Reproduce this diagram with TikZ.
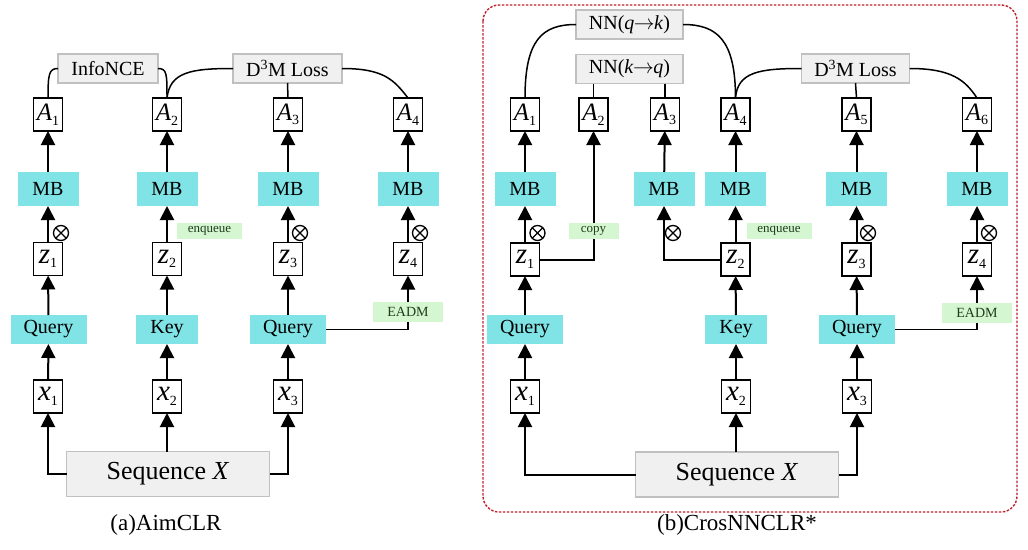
\documentclass[tikz,border=0pt]{standalone}
\usepackage{fontspec}
\setmainfont{Liberation Serif}
\usetikzlibrary{arrows.meta}
\definecolor{mbcyan}{RGB}{128,228,230}
\definecolor{gfill}{RGB}{240,240,240}
\definecolor{gdraw}{RGB}{192,192,192}
\definecolor{lgreen}{RGB}{212,246,208}
\definecolor{dred}{RGB}{190,34,46}
\definecolor{tagtext}{RGB}{30,60,30}
\newcommand\lsub[1]{\raisebox{-4.5pt}{\fontsize{14}{14}\selectfont #1}}
\newcommand\rarr{\kern-0.5pt$\rightarrow$\kern-0.5pt}
\begin{document}
\begin{tikzpicture}[x=1pt,y=-1pt,
  every node/.style={inner sep=0pt,outer sep=0pt},
  varbox/.style={draw=black,line width=1.3pt,fill=white,minimum width=29pt,minimum height=33pt},
  Abox/.style={varbox,font=\fontsize{25}{25}\selectfont},
  zbox/.style={varbox,font=\fontsize{29}{29}\selectfont},
  mbbox/.style={fill=mbcyan,minimum width=61pt,minimum height=34pt,font=\fontsize{20}{20}\selectfont},
  qbox/.style={fill=mbcyan,minimum width=76pt,minimum height=29pt,font=\fontsize{20}{20}\selectfont},
  kbox/.style={qbox,minimum width=62pt},
  lossbox/.style={draw=gdraw,fill=gfill,line width=1.2pt,minimum height=29pt,font=\fontsize{20}{20}\selectfont},
  seqbox/.style={draw=gdraw,fill=gfill,line width=1.2pt,minimum width=203pt,minimum height=45pt,font=\fontsize{26}{26}\selectfont},
  tag/.style={fill=lgreen,text=tagtext,minimum height=16pt,font=\fontsize{13}{13}\selectfont},
  eadm/.style={tag,minimum width=70pt,minimum height=20pt,font=\fontsize{14}{14}\selectfont},
  otimes/.style={circle,draw,line width=1.3pt,minimum size=15pt,
    path picture={\draw[line width=1.3pt] (path picture bounding box.north west) -- (path picture bounding box.south east)
      (path picture bounding box.north east) -- (path picture bounding box.south west);}},
  arr/.style={line width=2pt,-{Triangle[length=14pt,width=14pt]}},
  link/.style={line width=1.5pt},
  caption/.style={font=\fontsize{23}{23}\selectfont}
]
\useasboundingbox (0,0) rectangle (1028,549);

% ================= (a) AimCLR =================
\node[lossbox,minimum width=100pt] (info) at (108,68.5) {InfoNCE};
\node[lossbox,minimum width=109pt] (ld3m) at (287.5,68.5) {D\textsuperscript{3}M Loss};

\node[Abox] (la1) at (48,114.5) {\textit{A}\lsub{1}};
\node[Abox] (la2) at (167,114.5) {\textit{A}\lsub{2}};
\node[Abox] (la3) at (288,114.5) {\textit{A}\lsub{3}};
\node[Abox] (la4) at (408,114.5) {\textit{A}\lsub{4}};

\node[mbbox] (lmb1) at (48,189) {MB};
\node[mbbox] (lmb2) at (167,189) {MB};
\node[mbbox] (lmb3) at (288,189) {MB};
\node[mbbox] (lmb4) at (408,189) {MB};

\node[zbox] (lz1) at (48,259) {\textit{z}\lsub{1}};
\node[zbox] (lz2) at (167,259) {\textit{z}\lsub{2}};
\node[zbox] (lz3) at (288,259) {\textit{z}\lsub{3}};
\node[zbox] (lz4) at (408,259) {\textit{z}\lsub{4}};

\node[otimes] (lo1) at (61,233) {};
\node[otimes] (lo3) at (300,233) {};
\node[otimes] (lo4) at (420,233) {};

\node[qbox] (lq1) at (48.5,329.5) {Query};
\node[kbox] (lk) at (167,329.5) {Key};
\node[qbox] (lq3) at (288,329.5) {Query};

\node[zbox] (lx1) at (48,396.5) {\textit{x}\lsub{1}};
\node[zbox] (lx2) at (167,396.5) {\textit{x}\lsub{2}};
\node[zbox] (lx3) at (288,396.5) {\textit{x}\lsub{3}};

\node[seqbox] (lseq) at (168,474) {Sequence \textit{X}};
\node[caption] (lcap) at (166,525) {(a)AimCLR};

\draw[arr] (lseq.west) -| (lx1.south);
\draw[arr] (lseq.north -| lx2) -- (lx2.south);
\draw[arr] (lseq.east) -| (lx3.south);
\draw[arr] (lx1) -- (lq1);
\draw[arr] (lx2) -- (lk);
\draw[arr] (lx3) -- (lq3);
\draw[arr] (lq1) -- (lz1);
\draw[arr] (lk) -- (lz2);
\draw[arr] (lq3) -- (lz3);
\draw[arr] (lz1) -- (lmb1);
\draw[arr] (lz2) -- (lmb2);
\draw[arr] (lz3) -- (lmb3);
\draw[arr] (lz4) -- (lmb4);
\draw[arr] (lmb1) -- (la1);
\draw[arr] (lmb2) -- (la2);
\draw[arr] (lmb3) -- (la3);
\draw[arr] (lmb4) -- (la4);

\node[tag,minimum width=65pt] (lenq) at (209.5,231) {enqueue};
\node[eadm] (leadm) at (408,312) {EADM};
\draw[link] (lq3.east) -| (leadm.south);
\draw[arr] (leadm.north) -- (lz4.south);

\draw[link] (la1.north) .. controls +(0,-24) and +(-9,0) .. (info.west);
\draw[link] (info.east) .. controls +(9,0) and +(0,-24) .. (la2.north);
\draw[link] (la2.north) .. controls +(3,-26) and +(-42,0) .. (ld3m.west);
\draw[link] (ld3m.east) .. controls +(42,0) and +(-14,-18) .. (la4.north);
\draw[link] (ld3m.south) -- (la3.north);

% ================= (b) CrosNNCLR* =================
\draw[dred,line width=1.4pt,dash pattern=on 2.5pt off 1.5pt,rounded corners=16pt] (483,5) rectangle (1017,512);

\node[lossbox,minimum width=107pt] (nnqk) at (629.5,24.5) {NN(\textit{q}\rarr\textit{k})};
\node[lossbox,minimum width=107pt] (nnkq) at (629.5,69) {NN(\textit{k}\rarr\textit{q})};
\node[lossbox,minimum width=108pt] (rd3m) at (855.5,68.5) {D\textsuperscript{3}M Loss};

\node[Abox] (ra1) at (525,114.5) {\textit{A}\lsub{1}};
\node[Abox] (ra2) at (593.5,114.5) {\textit{A}\lsub{2}};
\node[Abox] (ra3) at (665,114.5) {\textit{A}\lsub{3}};
\node[Abox] (ra4) at (735.5,114.5) {\textit{A}\lsub{4}};
\node[Abox] (ra5) at (856.5,114.5) {\textit{A}\lsub{5}};
\node[Abox] (ra6) at (977,114.5) {\textit{A}\lsub{6}};

\node[mbbox] (rmb1) at (525,189) {MB};
\node[mbbox] (rmb3) at (664,189) {MB};
\node[mbbox] (rmb4) at (735.5,189) {MB};
\node[mbbox] (rmb5) at (856.5,189) {MB};
\node[mbbox] (rmb6) at (977,189) {MB};

\node[zbox] (rz1) at (525,259.5) {\textit{z}\lsub{1}};
\node[zbox] (rz2) at (735.5,259.5) {\textit{z}\lsub{2}};
\node[zbox] (rz3) at (856.5,259.5) {\textit{z}\lsub{3}};
\node[zbox] (rz4) at (977,259.5) {\textit{z}\lsub{4}};

\node[otimes] (ro1) at (537.5,233) {};
\node[otimes] (ro3) at (673,233) {};
\node[otimes] (ro5) at (868,233) {};
\node[otimes] (ro6) at (989,233) {};

\node[qbox] (rq1) at (525,329.5) {Query};
\node[kbox] (rk) at (736,329.5) {Key};
\node[qbox] (rq3) at (857,329.5) {Query};

\node[zbox] (rx1) at (525,396.5) {\textit{x}\lsub{1}};
\node[zbox] (rx2) at (736,396.5) {\textit{x}\lsub{2}};
\node[zbox] (rx3) at (857,396.5) {\textit{x}\lsub{3}};

\node[seqbox] (rseq) at (737,474.5) {Sequence \textit{X}};
\node[caption] (rcap) at (737,525) {(b)CrosNNCLR*};

\draw[arr] (rseq.west) -| (rx1.south);
\draw[arr] (rseq.north -| rx2) -- (rx2.south);
\draw[arr] (rseq.east) -| (rx3.south);
\draw[arr] (rx1) -- (rq1);
\draw[arr] (rx2) -- (rk);
\draw[arr] (rx3) -- (rq3);
\draw[arr] (rq1) -- (rz1);
\draw[arr] (rk) -- (rz2);
\draw[arr] (rq3) -- (rz3);
\draw[arr] (rz1) -- (rmb1);
\draw[arr] (rz2) -- (rmb4);
\draw[arr] (rz3) -- (rmb5);
\draw[arr] (rz4) -- (rmb6);
\draw[arr] (rmb1) -- (ra1);
\draw[arr] (rmb3) -- (ra3);
\draw[arr] (rmb4) -- (ra4);
\draw[arr] (rmb5) -- (ra5);
\draw[arr] (rmb6) -- (ra6);
\draw[arr] (rz1.east) -| (ra2.south);
\draw[arr] (rz2.west) -| (rmb3.south);

\node[tag,minimum width=50pt] (rcopy) at (593.5,231) {copy};
\node[tag,minimum width=65pt] (renq) at (779,231) {enqueue};
\node[eadm] (readm) at (977,312.5) {EADM};
\draw[link] (rq3.east) -| (readm.south);
\draw[arr] (readm.north) -- (rz4.south);

\draw[link] (ra1.north) .. controls +(0,-58) and +(-34,0) .. (nnqk.west);
\draw[link] (nnqk.east) .. controls +(34,0) and +(0,-58) .. (ra4.north);
\draw[link] (nnkq.south -| ra2) -- (ra2.north);
\draw[link] (nnkq.south -| ra3) -- (ra3.north);
\draw[link] (ra4.north) .. controls +(2,-26) and +(-42,0) .. (rd3m.west);
\draw[link] (rd3m.east) .. controls +(42,0) and +(-12,-18) .. (ra6.north);
\draw[link] (rd3m.south) -- (ra5.north);
\end{tikzpicture}
\end{document}
